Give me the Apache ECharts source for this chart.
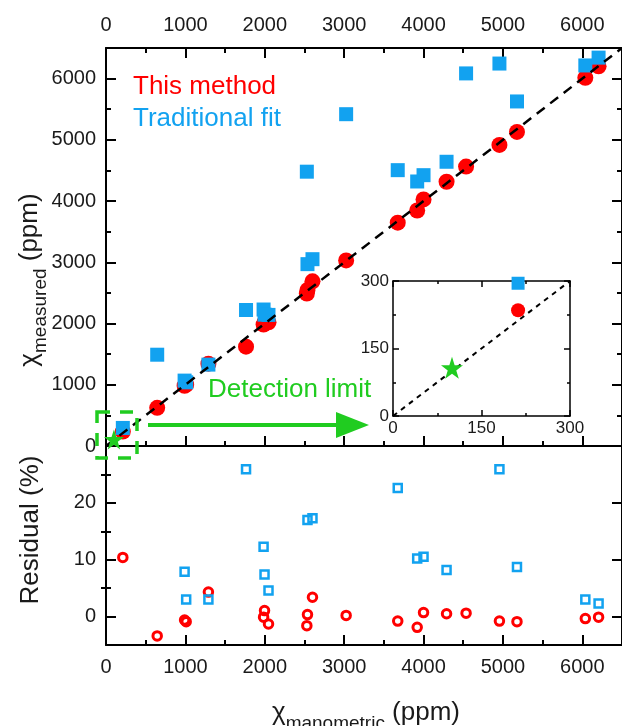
<!DOCTYPE html>
<html>
<head>
<meta charset="utf-8">
<script src="https://cdn.jsdelivr.net/npm/echarts@6.0.0/dist/echarts.min.js"></script>
<style>
  html, body { margin: 0; padding: 0; background: #fff; }
  #chart { width: 622px; height: 726px; }
</style>
</head>
<body>
<div id="chart"></div>
<script>
// manometric concentration (ppm) and measured values
const manoX   = [212, 645, 990, 1010, 1290, 1764, 1985, 1997, 2047, 2530, 2538, 2601, 3025, 3675, 3920, 4000, 4290, 4536, 4956, 5177, 6038, 6205];
const methodY = [235, 623, 984, 1001, 1345, 1622, 1983, 2018, 2020, 2490, 2547, 2689, 3031, 3647, 3846, 4027, 4316, 4563, 4917, 5130, 6013, 6200];
const fitY    = [295, 1491, 1068, 1040, 1329, 2221, 2229, 2145, 2141, 4480, 2970, 3051, 5419, 4505, 4320, 4423, 4642, 6085, 6246, 5627, 6215, 6343];

// residuals (%) shown in the lower panel
const resMethodX = [212, 645, 990, 1010, 1290, 1985, 1997, 2047, 2530, 2538, 2601, 3025, 3675, 3920, 4000, 4290, 4536, 4956, 5177, 6038, 6205];
const resMethod  = [10.4, -3.4, -0.6, -0.9, 4.3, -0.1, 1.05, -1.3, -1.6, 0.35, 3.4, 0.2, -0.8, -1.9, 0.7, 0.5, 0.6, -0.8, -0.9, -0.35, -0.1];
const resFitX = [990, 1010, 1290, 1764, 1985, 1997, 2047, 2538, 2601, 3675, 3920, 4000, 4290, 4956, 5177, 6038, 6205];
const resFit  = [7.9, 3.0, 3.0, 25.9, 12.3, 7.4, 4.6, 17.0, 17.3, 22.6, 10.2, 10.5, 8.2, 25.9, 8.7, 3.0, 2.3];

const detectionLimit = [100, 107];
const idealLine = [[0, 0], [6500, 6500]];
const insetIdeal = [[0, 0], [300, 300]];
const residualMajor = [0, 10, 20];
const residualMinor = [5, 15, 25];

const RED = '#ff0000';
const BLUE = '#12a2f0';
const GREEN = '#20cc20';
const FONT = 'Liberation Sans, Arial, sans-serif';

const zip = (xs, ys) => xs.map((x, i) => [x, ys[i]]);
const plain = v => String(v);

const line = { show: true, onZero: false, lineStyle: { color: '#000', width: 2 } };
function axisX(grid, pos, opts) {
  return Object.assign({
    type: 'value', gridIndex: grid, position: pos, min: 0, max: 6500, interval: 1000,
    axisLine: line, splitLine: { show: false },
    axisTick: { show: true, inside: true, length: 10, lineStyle: { width: 2, color: '#000' } },
    minorTick: { show: true, splitNumber: 2, length: 5, lineStyle: { width: 2, color: '#000' } },
    axisLabel: { show: false, fontSize: 20, color: '#1a1a1a', fontFamily: FONT, showMaxLabel: false, formatter: plain }
  }, opts);
}
function label(margin, size) {
  return { show: true, fontSize: size || 20, color: '#1a1a1a', fontFamily: FONT, margin: margin, showMaxLabel: false, formatter: plain };
}
const insetLine = { show: true, onZero: false, lineStyle: { color: '#000', width: 1.5 } };
const insetTick = { show: true, inside: true, length: 6, lineStyle: { width: 1.5, color: '#000' } };
const insetMinor = { show: true, splitNumber: 2, length: 3, lineStyle: { width: 1.5, color: '#000' } };
const insetLabel = { show: true, fontSize: 17, color: '#1a1a1a', fontFamily: FONT, margin: 4, formatter: plain };

var myChart = echarts.init(document.getElementById('chart'));
var option = {
  animation: false,
  grid: [
    { left: 106, top: 48, width: 520, height: 398 },
    { left: 106, top: 446, width: 520, height: 199 },
    { left: 393, top: 281, width: 177, height: 135, show: true, backgroundColor: '#fff', borderWidth: 0 }
  ],
  xAxis: [
    axisX(0, 'bottom'),
    axisX(0, 'top', { axisLabel: label(13) }),
    axisX(1, 'bottom', { axisLabel: label(12) }),
    axisX(1, 'top', { axisTick: { show: false }, minorTick: { show: false } }),
    axisX(2, 'bottom', { max: 300, interval: 150, axisLine: insetLine, axisTick: insetTick, minorTick: insetMinor, axisLabel: insetLabel }),
    axisX(2, 'top', { max: 300, interval: 150, axisLine: insetLine, axisTick: insetTick, minorTick: insetMinor })
  ],
  yAxis: [
    axisX(0, 'left', { axisLabel: label(10) }),
    axisX(0, 'right'),
    { type: 'value', gridIndex: 1, position: 'left', min: -5, max: 30,
      axisLine: line, splitLine: { show: false },
      axisTick: { show: true, inside: true, length: 10, customValues: residualMajor, lineStyle: { width: 2, color: '#000' } },
      axisLabel: { show: true, customValues: residualMajor, fontSize: 20, color: '#1a1a1a', fontFamily: FONT, margin: 10 } },
    { type: 'value', gridIndex: 1, position: 'left', min: -5, max: 30,
      axisLine: { show: false }, splitLine: { show: false }, axisLabel: { show: false },
      axisTick: { show: true, inside: true, length: 5, customValues: residualMinor, lineStyle: { width: 2, color: '#000' } } },
    { type: 'value', gridIndex: 1, position: 'right', min: -5, max: 30,
      axisLine: line, splitLine: { show: false }, axisLabel: { show: false },
      axisTick: { show: true, inside: true, length: 10, customValues: residualMajor, lineStyle: { width: 2, color: '#000' } } },
    { type: 'value', gridIndex: 1, position: 'right', min: -5, max: 30,
      axisLine: { show: false }, splitLine: { show: false }, axisLabel: { show: false },
      axisTick: { show: true, inside: true, length: 5, customValues: residualMinor, lineStyle: { width: 2, color: '#000' } } },
    axisX(2, 'left', { max: 300, interval: 150, axisLine: insetLine, axisTick: insetTick, minorTick: insetMinor, axisLabel: insetLabel }),
    axisX(2, 'right', { max: 300, interval: 150, axisLine: insetLine, axisTick: insetTick, minorTick: insetMinor })
  ],
  series: [
    { name: 'This method', type: 'scatter', xAxisIndex: 0, yAxisIndex: 0, symbol: 'circle', symbolSize: 16,
      itemStyle: { color: RED, opacity: 1 }, data: zip(manoX, methodY), z: 3 },
    { name: 'Traditional fit', type: 'scatter', xAxisIndex: 0, yAxisIndex: 0, symbol: 'rect', symbolSize: 14,
      itemStyle: { color: BLUE, opacity: 1 }, data: zip(manoX, fitY), z: 4 },
    { type: 'line', xAxisIndex: 0, yAxisIndex: 0, data: idealLine, symbol: 'none', z: 5,
      lineStyle: { color: '#000', width: 2.5, type: [10, 7] } },
    { type: 'scatter', xAxisIndex: 0, yAxisIndex: 0, symbol: 'path://M50,0 L61.8,35.5 L99,35.5 L69,57.5 L80.4,93 L50,71 L19.6,93 L31,57.5 L1,35.5 L38.2,35.5 Z',
      symbolSize: 20, itemStyle: { color: GREEN, opacity: 1 }, data: [detectionLimit], z: 6 },

    { type: 'scatter', xAxisIndex: 2, yAxisIndex: 2, symbol: 'circle', symbolSize: 8.5,
      itemStyle: { color: 'rgba(0,0,0,0)', borderColor: RED, borderWidth: 3, opacity: 1 },
      data: zip(resMethodX, resMethod), z: 3 },
    { type: 'scatter', xAxisIndex: 2, yAxisIndex: 2, symbol: 'rect', symbolSize: 8,
      itemStyle: { color: 'rgba(0,0,0,0)', borderColor: BLUE, borderWidth: 2.5, opacity: 1 },
      data: zip(resFitX, resFit), z: 4 },

    { type: 'line', xAxisIndex: 4, yAxisIndex: 6, data: insetIdeal, symbol: 'none', z: 5,
      lineStyle: { color: '#000', width: 2, type: [5, 5] } },
    { type: 'scatter', xAxisIndex: 4, yAxisIndex: 6, symbol: 'circle', symbolSize: 14,
      itemStyle: { color: RED, opacity: 1 }, data: [[manoX[0], methodY[0]]], z: 6 },
    { type: 'scatter', xAxisIndex: 4, yAxisIndex: 6, symbol: 'rect', symbolSize: 13,
      itemStyle: { color: BLUE, opacity: 1 }, data: [[manoX[0], fitY[0]]], z: 6 },
    { type: 'scatter', xAxisIndex: 4, yAxisIndex: 6, symbol: 'path://M50,0 L61.8,35.5 L99,35.5 L69,57.5 L80.4,93 L50,71 L19.6,93 L31,57.5 L1,35.5 L38.2,35.5 Z',
      symbolSize: 22, itemStyle: { color: GREEN, opacity: 1 }, data: [detectionLimit], z: 7 }
  ],
  graphic: [
    { type: 'text', left: 133, top: 74, z: 10,
      style: { text: 'This method', fill: RED, font: '26px ' + FONT } },
    { type: 'text', left: 133, top: 106, z: 10,
      style: { text: 'Traditional fit', fill: BLUE, font: '26px ' + FONT } },
    { type: 'text', left: 208, top: 377, z: 10,
      style: { text: 'Detection limit', fill: GREEN, font: '26px ' + FONT } },
    { type: 'rect', z: 10, shape: { x: 97, y: 412, width: 40, height: 46 },
      style: { fill: 'none', stroke: GREEN, lineWidth: 3.5, lineDash: [13, 10] } },
    { type: 'line', z: 10, shape: { x1: 148, y1: 425, x2: 340, y2: 425 },
      style: { stroke: GREEN, lineWidth: 4 } },
    { type: 'polygon', z: 10, shape: { points: [[336, 412], [369, 425], [336, 438]] },
      style: { fill: GREEN } },
    { type: 'text', z: 10, x: 366, y: 713,
      style: {
        text: '{a|χ}{b|manometric}{a| (ppm)}', align: 'center', verticalAlign: 'middle',
        rich: {
          a: { fontSize: 26, fontFamily: FONT, fill: '#1a1a1a', lineHeight: 30 },
          b: { fontSize: 19, fontFamily: FONT, fill: '#1a1a1a', lineHeight: 40, verticalAlign: 'bottom' }
        }
      } },
    { type: 'text', z: 10, x: 30, y: 280, rotation: Math.PI / 2,
      style: {
        text: '{a|χ}{b|measured}{a| (ppm)}', align: 'center', verticalAlign: 'middle',
        rich: {
          a: { fontSize: 26, fontFamily: FONT, fill: '#1a1a1a', lineHeight: 30 },
          b: { fontSize: 19, fontFamily: FONT, fill: '#1a1a1a', lineHeight: 40, verticalAlign: 'bottom' }
        }
      } },
    { type: 'text', z: 10, x: 31, y: 530, rotation: Math.PI / 2,
      style: { text: 'Residual (%)', align: 'center', verticalAlign: 'middle', fill: '#1a1a1a', font: '26px ' + FONT } }
  ]
};
myChart.setOption(option);
</script>
</body>
</html>
